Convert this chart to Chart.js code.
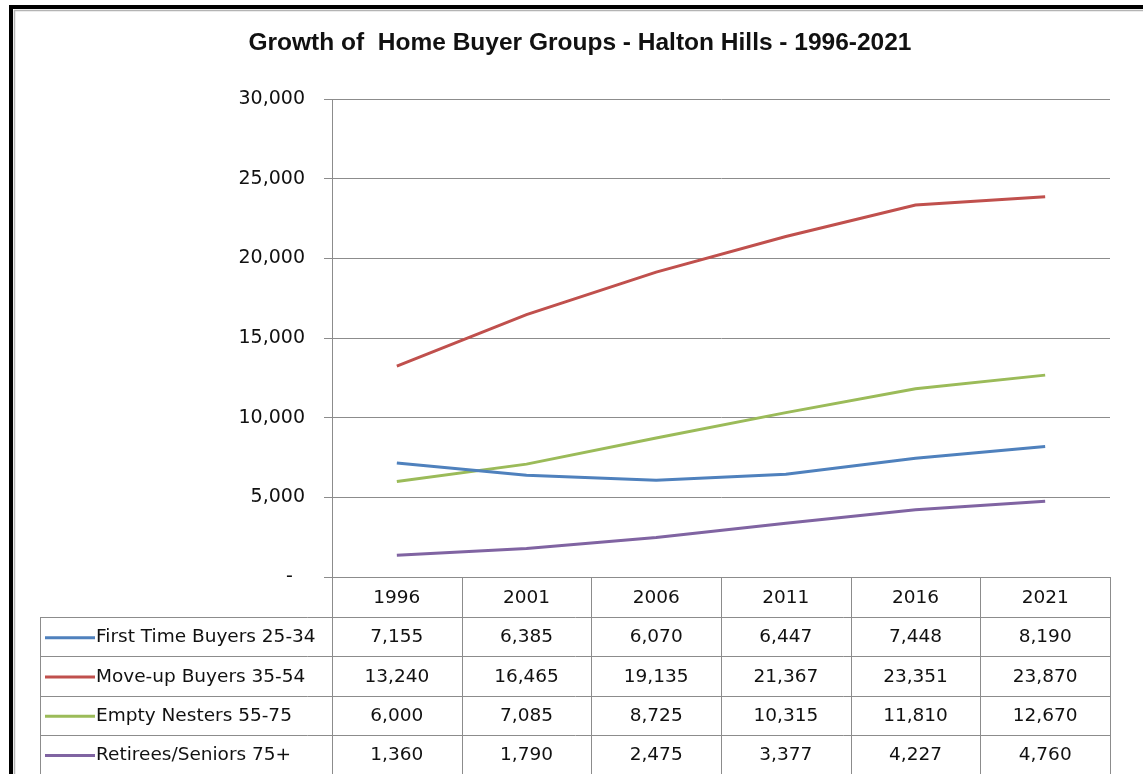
<!DOCTYPE html>
<html>
<head>
<meta charset="utf-8">
<script src="https://cdn.jsdelivr.net/npm/chart.js@4.4.1/dist/chart.umd.min.js"></script>
<style>
  html, body { margin: 0; padding: 0; background: #fff; }
  #chart { display: block; }
</style>
</head>
<body>
<canvas id="chart" width="1143" height="774"></canvas>
<script>
const years = ['1996', '2001', '2006', '2011', '2016', '2021'];
const firstTimeBuyers = [7155, 6385, 6070, 6447, 7448, 8190];
const moveUpBuyers = [13240, 16465, 19135, 21367, 23351, 23870];
const emptyNesters = [6000, 7085, 8725, 10315, 11810, 12670];
const retireesSeniors = [1360, 1790, 2475, 3377, 4227, 4760];
const seriesNames = ['First Time Buyers 25-34', 'Move-up Buyers 35-54', 'Empty Nesters 55-75', 'Retirees/Seniors 75+'];
const yTicks = [0, 5000, 10000, 15000, 20000, 25000, 30000];

const seriesColors = ['#4f81bd', '#c0504d', '#9bbb59', '#8064a2'];
const gridColor = '#8c8c8c';
const textFont = '"DejaVu Sans", sans-serif';

function fmt(v) {
  return v.toLocaleString('en-US');
}

// --- Data table under the plot + outer frame ---
const dataTable = {
  id: 'dataTable',
  afterDraw(chart) {
    const ctx = chart.ctx;
    const area = chart.chartArea;
    const x = chart.scales.x;
    const n = years.length;
    const colW = (area.right - area.left) / n;
    const headerH = 40;
    const rowH = 39.3;
    const tableLeft = 40;
    const bottom = chart.height + 2;
    const firstRow = area.bottom + headerH;

    ctx.save();

    // frame
    ctx.fillStyle = '#000';
    ctx.fillRect(9, 5, chart.width, 4);
    ctx.fillRect(9, 5, 4, chart.height);
    ctx.strokeStyle = '#b4b4b4';
    ctx.lineWidth = 1.5;
    ctx.beginPath();
    ctx.moveTo(14.5, 10);
    ctx.lineTo(14.5, chart.height);
    ctx.moveTo(14, 10.5);
    ctx.lineTo(chart.width, 10.5);
    ctx.stroke();

    // grid of the table
    ctx.strokeStyle = gridColor;
    ctx.lineWidth = 1;
    ctx.beginPath();
    for (let i = 0; i <= n; i++) {
      const px = Math.round(area.left + i * colW) + 0.5;
      ctx.moveTo(px, area.bottom);
      ctx.lineTo(px, bottom);
    }
    ctx.moveTo(tableLeft + 0.5, firstRow);
    ctx.lineTo(tableLeft + 0.5, bottom);
    for (let r = 0; r < seriesNames.length; r++) {
      const py = Math.round(firstRow + r * rowH) + 0.5;
      ctx.moveTo(tableLeft, py);
      ctx.lineTo(area.right + 1, py);
    }
    ctx.stroke();

    // header
    ctx.fillStyle = '#111';
    ctx.font = '18.5px ' + textFont;
    ctx.textAlign = 'center';
    ctx.textBaseline = 'middle';
    years.forEach((yr, i) => {
      ctx.fillText(yr, x.getPixelForValue(i), area.bottom + headerH / 2 + 1);
    });

    // rows
    chart.data.datasets.forEach((ds, r) => {
      const cy = firstRow + r * rowH + rowH / 2 + 1;
      ctx.strokeStyle = ds.borderColor;
      ctx.lineWidth = 3;
      ctx.beginPath();
      ctx.moveTo(45, cy);
      ctx.lineTo(95, cy);
      ctx.stroke();

      ctx.fillStyle = '#111';
      ctx.textAlign = 'left';
      ctx.fillText(ds.label, 96, cy);
      ctx.textAlign = 'center';
      ds.data.forEach((v, i) => {
        ctx.fillText(fmt(v), x.getPixelForValue(i), cy);
      });
    });

    ctx.restore();
  }
};

const allSeries = [firstTimeBuyers, moveUpBuyers, emptyNesters, retireesSeniors];

new Chart(document.getElementById('chart').getContext('2d'), {
  type: 'line',
  data: {
    labels: years,
    datasets: allSeries.map((values, i) => ({
      label: seriesNames[i],
      data: values,
      borderColor: seriesColors[i],
      backgroundColor: seriesColors[i],
      borderWidth: 3,
      pointRadius: 0,
      tension: 0,
      fill: false
    }))
  },
  options: {
    responsive: false,
    animation: false,
    layout: { padding: { left: 50, right: 33, top: 0, bottom: 0 } },
    plugins: {
      legend: { display: false },
      tooltip: { enabled: false },
      title: {
        display: true,
        text: 'Growth of  Home Buyer Groups - Halton Hills - 1996-2021',
        color: '#111',
        font: { family: '"Liberation Sans", Arial, sans-serif', size: 24.5, weight: 'bold' },
        padding: { top: 29, bottom: 40.6 }
      }
    },
    scales: {
      x: {
        type: 'category',
        offset: true,
        grid: { display: false },
        border: { display: false },
        ticks: { display: false },
        afterFit(scale) { scale.height = 197; }
      },
      y: {
        min: 0,
        max: 30000,
        afterBuildTicks(scale) {
          scale.ticks = yTicks.map(v => ({ value: v }));
        },
        afterFit(scale) { scale.width = 282; },
        grid: { color: gridColor, tickLength: 8, lineWidth: 1 },
        border: { color: gridColor },
        ticks: {
          padding: 19,
          color: '#111',
          font: { family: textFont, size: 19 },
          callback: v => (v === 0 ? '-  ' : fmt(v))
        }
      }
    }
  },
  plugins: [dataTable]
});
</script>
</body>
</html>
